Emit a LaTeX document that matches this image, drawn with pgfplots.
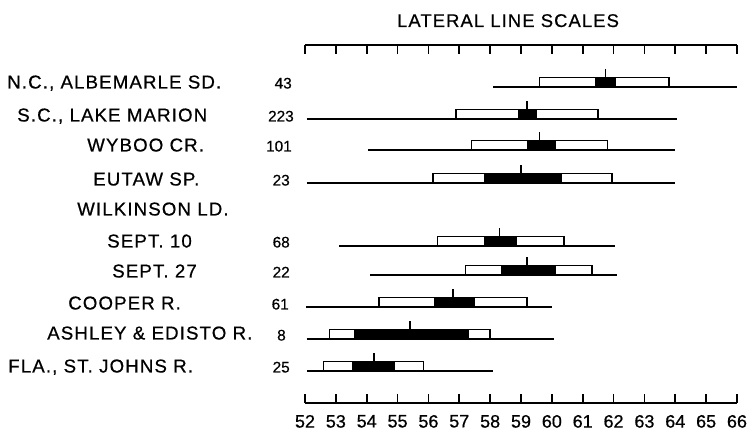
\documentclass[border=0pt]{standalone}
\usepackage{fontspec}
\setmainfont[FakeBold=0.6]{Liberation Sans}
\newfontfamily\lab[LetterSpace=6, FakeBold=0.6]{Liberation Sans}
\newfontfamily\num[FakeBold=0.6]{Liberation Sans}
\usepackage{pgfplots}
\pgfplotsset{compat=1.18}

% one population: line y, range min/max, mean +- SD, mean +- 2SE, mean
\newcommand{\pop}[8]{%
  \pgfmathsetmacro\boxtop{#1-9.5}%
  \pgfmathsetmacro\meantop{#1-18}%
  \addplot[line width=1.5pt] coordinates {(#2,#1) (#3,#1)};
  \addplot[draw=black, fill=white, line width=1.2pt] coordinates {(#4,#1) (#4,\boxtop) (#5,\boxtop) (#5,#1)} -- cycle;
  \addplot[draw=black, fill=black, line width=0.5pt] coordinates {(#6,#1) (#6,\boxtop) (#7,\boxtop) (#7,#1)} -- cycle;
  \addplot[line width=1.2pt] coordinates {(#8,#1) (#8,\meantop)};
}

\begin{document}
\begin{tikzpicture}[x=0.75pt, y=0.75pt]
\path[use as bounding box] (0,0) rectangle (747,431);
\begin{axis}[
    at={(228.75pt,21pt)}, anchor=south west,
    scale only axis, width=324pt, height=268.5pt,
    xmin=52, xmax=66, ymin=45, ymax=403, y dir=reverse,
    axis x line=box, axis y line=none,
    xtick={52,...,66}, ytick=\empty,
    xticklabel pos=lower,
    tick align=inside, major tick length=7pt,
    every tick/.style={black, line width=1.2pt},
    axis line style={line width=1.5pt},
    xticklabel style={font=\num\fontsize{13.5}{15}\selectfont, yshift=-5.5pt},
    /pgf/number format/assume math mode=true,
]
\pop{87}{58.1}{66.0}{59.6}{63.8}{61.4}{62.06}{61.74}
\pop{119}{52.05}{64.05}{56.9}{61.5}{58.9}{59.5}{59.2}
\pop{150}{54.05}{64.0}{57.4}{61.8}{59.2}{60.1}{59.6}
\pop{183}{52.05}{64.0}{56.15}{61.95}{57.8}{60.3}{59.0}
\pop{246}{53.1}{62.06}{56.3}{60.4}{57.8}{58.85}{58.3}
\pop{275}{54.1}{62.1}{57.2}{61.3}{58.35}{60.1}{59.2}
\pop{307}{52.03}{60.0}{54.4}{59.2}{56.2}{57.5}{56.8}
\pop{339}{52.05}{60.06}{52.8}{58.0}{53.6}{57.3}{55.4}
\pop{371}{52.07}{58.1}{52.6}{55.84}{53.55}{54.9}{54.24}
\end{axis}

\node[anchor=base, font=\lab\fontsize{13.8}{15}\selectfont] at (508,404) {LATERAL LINE SCALES};

\begin{scope}[every node/.style={anchor=base west, inner sep=0pt, font=\lab\fontsize{14}{16}\selectfont}]
\node at (7,342.5) {N.C., ALBEMARLE SD.};
\node at (17,309.5) {S.C., LAKE MARION};
\node at (87,279.5) {WYBOO CR.};
\node at (93,245.5) {EUTAW SP.};
\node at (77,215.5) {WILKINSON LD.};
\node at (107,183.5) {SEPT. 10};
\node at (112,153.5) {SEPT. 27};
\node at (68,121.5) {COOPER R.};
\node at (47,91.5) {ASHLEY \& EDISTO R.};
\node at (8,58.5) {FLA., ST. JOHNS R.};
\end{scope}

\begin{scope}[every node/.style={anchor=base east, inner sep=0pt, font=\num\fontsize{11.5}{13}\selectfont}]
\node at (292,342.5) {43};
\node at (294,309.5) {223};
\node at (292,279.5) {101};
\node at (290,245.5) {23};
\node at (290,183.5) {68};
\node at (290,153.5) {22};
\node at (289,121.5) {61};
\node at (286,90.5) {8};
\node at (290,58.5) {25};
\end{scope}
\end{tikzpicture}
\end{document}
